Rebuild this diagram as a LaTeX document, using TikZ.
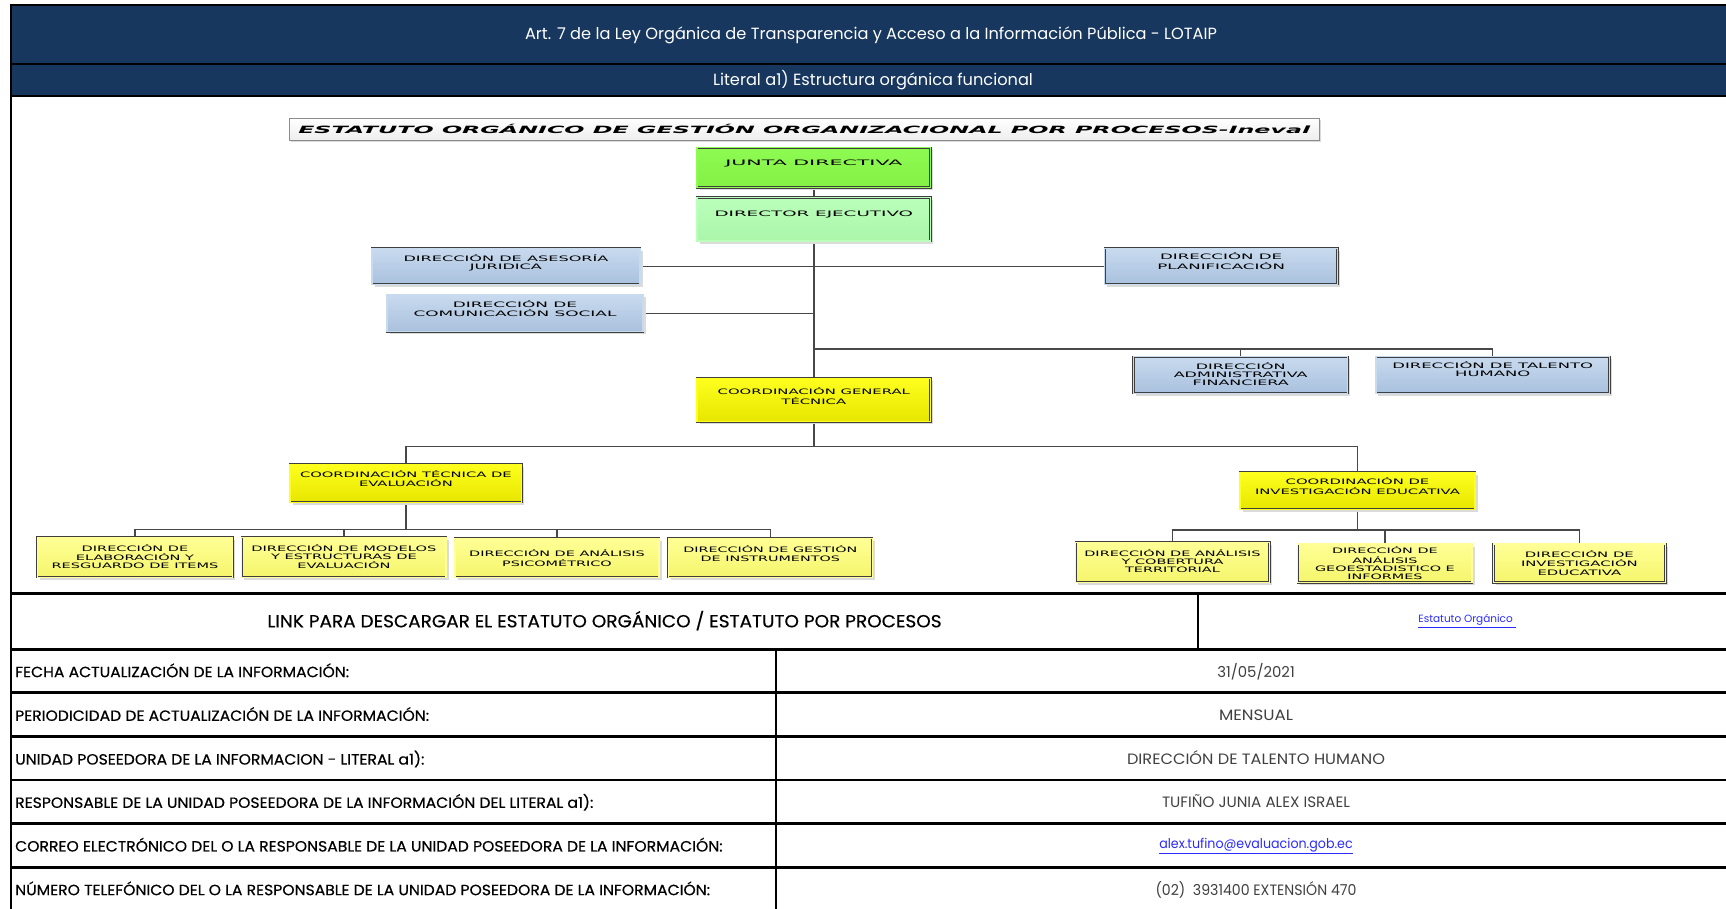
\documentclass[tikz,border=0pt]{standalone}
\usepackage{fontspec}
\usepackage{graphicx}
\setmainfont{Poppins}
\newfontfamily\chartfont{DejaVu Sans}
\newfontfamily\lblfont[FakeStretch=1.055, FakeBold=0.5]{Poppins}
\usetikzlibrary{shadows,backgrounds}
\definecolor{navy}{HTML}{17375E}
\definecolor{boxline}{HTML}{3F3F3F}
\definecolor{connc}{HTML}{484848}
\definecolor{jdgreen}{HTML}{8EFB52}
\definecolor{jdgreenb}{HTML}{84F046}
\definecolor{degreen}{HTML}{BAFFBA}
\definecolor{degreenb}{HTML}{ABF5AB}
\definecolor{bluet}{HTML}{C8DAEE}
\definecolor{blueb}{HTML}{A9C1DE}
\definecolor{yelt}{HTML}{FFFF1E}
\definecolor{yelb}{HTML}{E6E600}
\definecolor{pyelt}{HTML}{FFFF96}
\definecolor{pyelb}{HTML}{F5F56C}
\definecolor{linkblue}{HTML}{2B2BFF}
\definecolor{valgray}{HTML}{404040}
\newcommand{\bxt}[2]{\resizebox{#1pt}{\height}{\chartfont\fontsize{7.5}{8.3}\selectfont\begin{tabular}{@{}c@{}}#2\end{tabular}}}
\newcommand{\fitv}[2]{\resizebox{#1pt}{\height}{#2}}
\tikzset{
  orgbox/.style={draw=boxline, line width=0.5pt, double distance=1.3pt, inner sep=0pt,
    drop shadow={shadow xshift=2.5pt, shadow yshift=-2.5pt, fill=black!14, opacity=1}},
  greenA/.style={orgbox, top color=jdgreen, bottom color=jdgreenb, double=jdgreen},
  greenB/.style={orgbox, top color=degreen, bottom color=degreenb, double=degreen},
  bluebox/.style={orgbox, top color=bluet, bottom color=blueb, double=bluet},
  yelbox/.style={orgbox, top color=yelt, bottom color=yelb, double=yelt},
  pyelbox/.style={orgbox, top color=pyelt, bottom color=pyelb, double=pyelt},
  titlebox/.style={draw=black!45, line width=0.9pt, inner sep=0pt, top color=white, bottom color=black!7,
    drop shadow={shadow xshift=1.5pt, shadow yshift=-1.5pt, fill=black!15, opacity=1}},
  bxtext/.style={inner sep=0pt, anchor=center, text=black},
  conn/.style={draw=connc, line width=1.3pt},
  trunk/.style={draw=connc, line width=1.9pt},
  tline/.style={line width=2.6pt, black},
  hdr/.style={inner sep=0pt, text=white, font=\fontsize{16.2}{19}\selectfont, text height=11.3pt, text depth=0pt},
  lbl/.style={anchor=west, inner sep=0pt, font=\lblfont\fontsize{14.8}{17}\selectfont, text height=10.3pt, text depth=0pt},
  val/.style={inner sep=0pt, text=valgray, font=\fontsize{15}{17}\selectfont, text height=10.5pt, text depth=0pt},
}
\begin{document}
\begin{tikzpicture}[x=1pt,y=-1pt]
\useasboundingbox (0,0) rectangle (1726,908);
\clip (0,0) rectangle (1726,908);
% headers
\fill[navy] (11,5) rectangle (1740,64);
\fill[navy] (11,64) rectangle (1740,96);
\draw[line width=2.6pt] (11,5) -- (1740,5);
\draw[line width=2.4pt] (11,64) -- (1740,64);
\draw[line width=2.6pt] (11,96) -- (1740,96);
\draw[line width=2pt] (11,4) -- (11,910);
\node[hdr] (h1) at (871,34) {Art. 7 de la Ley Orgánica de Transparencia y Acceso a la Información Pública - LOTAIP};
\node[hdr] (h2) at (873,80) {Literal a1) Estructura orgánica funcional};

% title
\node[titlebox, minimum width=1029.5pt, minimum height=22.4pt] (ttl) at (804.25,129.5) {};
\node[bxtext] (ttlt) at (804.25,129) {\resizebox{1012pt}{\height}{\chartfont\bfseries\itshape\fontsize{10}{12}\selectfont ESTATUTO ORGÁNICO DE GESTIÓN ORGANIZACIONAL POR PROCESOS-Ineval}};

% boxes
\node[greenA, minimum width=233.5pt, minimum height=39.8pt] (jd) at (813.8,167.6) {};
\node[greenB, minimum width=233.5pt, minimum height=43.7pt] (de) at (813.8,219.2) {};
\node[bluebox, minimum width=268pt, minimum height=36pt] (ases) at (506,266.3) {};
\node[bluebox, minimum width=256pt, minimum height=36.7pt] (com) at (515,313.3) {};
\node[bluebox, minimum width=232.8pt, minimum height=36pt] (plan) at (1221.1,266.3) {};
\node[bluebox, minimum width=214.2pt, minimum height=36.6pt] (adm) at (1240.7,375) {};
\node[bluebox, minimum width=233.7pt, minimum height=36.6pt] (tal) at (1492.7,375) {};
\node[yelbox, minimum width=233.4pt, minimum height=43.4pt] (cgt) at (813.8,400) {};
\node[yelbox, minimum width=231.7pt, minimum height=38pt] (cte) at (405.9,483.3) {};
\node[yelbox, minimum width=235pt, minimum height=37pt] (cie) at (1357.5,490.8) {};
\node[pyelbox, minimum width=195.4pt, minimum height=40pt] (b1) at (135,557.3) {};
\node[pyelbox, minimum width=204.3pt, minimum height=40pt] (b2) at (343.9,557.3) {};
\node[pyelbox, minimum width=204pt, minimum height=39pt] (b3) at (557,557.8) {};
\node[pyelbox, minimum width=204pt, minimum height=39pt] (b4) at (770.3,557.8) {};
\node[pyelbox, minimum width=193.7pt, minimum height=40pt] (bA) at (1172.5,562.3) {};
\node[pyelbox, minimum width=174.2pt, minimum height=38.3pt] (bB) at (1384.9,563.2) {};
\node[pyelbox, minimum width=172.1pt, minimum height=38.3pt] (bC) at (1579.4,563.2) {};

% box texts
\node[bxtext] (jdt) at (813.8,164.1) {\bxt{177}{JUNTA DIRECTIVA}};
\node[bxtext] (det) at (813.8,215.1) {\bxt{198.6}{DIRECTOR EJECUTIVO}};
\node[bxtext] (asest) at (506,263.1) {\bxt{205}{DIRECCIÓN DE ASESORÍA\\JURIDICA}};
\node[bxtext] (comt) at (515,309.8) {\bxt{203}{DIRECCIÓN DE\\COMUNICACIÓN SOCIAL}};
\node[bxtext] (plant) at (1221.1,262.1) {\bxt{127.7}{DIRECCIÓN DE\\PLANIFICACIÓN}};
\node[bxtext] (admt) at (1240.7,375.4) {\bxt{133.9}{DIRECCIÓN\\ADMINISTRATIVA\\FINANCIERA}};
\node[bxtext] (talt) at (1492.7,370.6) {\bxt{200.6}{DIRECCIÓN DE TALENTO\\HUMANO}};
\node[bxtext] (cgtt) at (813.8,397.1) {\bxt{192.3}{COORDINACIÓN GENERAL\\TÉCNICA}};
\node[bxtext] (ctet) at (405.9,479.8) {\bxt{211.7}{COORDINACIÓN TÉCNICA DE\\EVALUACIÓN}};
\node[bxtext] (ciet) at (1357.5,487.4) {\bxt{205}{COORDINACIÓN DE\\INVESTIGACIÓN EDUCATIVA}};
\node[bxtext] (b1t) at (135,557.8) {\bxt{166.7}{DIRECCIÓN DE\\ELABORACIÓN Y\\RESGUARDO DE ITEMS}};
\node[bxtext] (b2t) at (343.9,557.8) {\bxt{185}{DIRECCIÓN DE MODELOS\\Y ESTRUCTURAS DE\\EVALUACIÓN}};
\node[bxtext] (b3t) at (557,559.1) {\bxt{175.7}{DIRECCIÓN DE ANÁLISIS\\PSICOMÉTRICO}};
\node[bxtext] (b4t) at (770.3,554.8) {\bxt{174}{DIRECCIÓN DE GESTIÓN\\DE INSTRUMENTOS}};
\node[bxtext] (bAt) at (1172.5,562.3) {\bxt{176.3}{DIRECCIÓN DE ANÁLISIS\\Y COBERTURA\\TERRITORIAL}};
\node[bxtext] (bBt) at (1384.9,564.4) {\bxt{139.8}{DIRECCIÓN DE\\ANÁLISIS\\GEOESTADISTICO E\\INFORMES}};
\node[bxtext] (bCt) at (1579.4,563.9) {\bxt{116.8}{DIRECCIÓN DE\\INVESTIGACIÓN\\EDUCATIVA}};

% connectors
\coordinate (rb) at (813.8,349);
\coordinate (cb) at (813.8,446.5);
\coordinate (eb) at (405.9,529.3);
\coordinate (ib) at (1357.5,530);
\begin{scope}[on background layer]
\draw[trunk] (jd.south) -- (de.north);
\draw[trunk] (de.south) -- (cgt.north);
\draw[conn] (ases.east) -- (plan.west);
\draw[conn] (com.east) -- (com.east -| de.south);
\draw[conn] (rb) -| (adm.north);
\draw[conn] (rb) -| (tal.north);
\draw[trunk] (cgt.south) -- (cb);
\draw[conn] (cte.north) |- (cb) -| (cie.north);
\draw[trunk] (cte.south) -- (eb);
\draw[conn] (b1.north) |- (eb) -| (b4.north);
\draw[conn] (b2.north) -- (b2.north |- eb);
\draw[conn] (b3.north) -- (b3.north |- eb);
\draw[trunk] (cie.south) -- (ib);
\draw[conn] (bA.north) |- (ib) -| (bC.north);
\draw[conn] (bB.north) -- (bB.north |- ib);
\end{scope}

% table
\foreach \yy in {593.3,649.3,692.7,736.7,780,823.3,867.3} \draw[tline] (11,\yy) -- (1740,\yy);
\draw[line width=2pt] (1198,593.3) -- (1198,649.3);
\draw[line width=2pt] (776,649.3) -- (776,910);
\node[inner sep=0pt, font=\lblfont\fontsize{17.5}{20}\selectfont, text height=12.2pt, text depth=0pt] (lnk) at (604.5,621.2) {LINK PARA DESCARGAR EL ESTATUTO ORGÁNICO / ESTATUTO POR PROCESOS};
\node[inner sep=0pt, text=linkblue, font=\fontsize{10.5}{12}\selectfont] (lnkv) at (1467,621) {\underline{Estatuto Orgánico\ }};
\node[lbl] (l1) at (15,672) {FECHA ACTUALIZACIÓN DE LA INFORMACIÓN:};
\node[lbl] (l2) at (15,715.7) {PERIODICIDAD DE ACTUALIZACIÓN DE LA INFORMACIÓN:};
\node[lbl] (l3) at (15,759.4) {UNIDAD POSEEDORA DE LA INFORMACION - LITERAL a1):};
\node[lbl] (l4) at (15,802.7) {RESPONSABLE DE LA UNIDAD POSEEDORA DE LA INFORMACIÓN DEL LITERAL a1):};
\node[lbl] (l5) at (15,846.3) {CORREO ELECTRÓNICO DEL O LA RESPONSABLE DE LA UNIDAD POSEEDORA DE LA INFORMACIÓN:};
\node[lbl] (l6) at (15,890) {NÚMERO TELEFÓNICO DEL O LA RESPONSABLE DE LA UNIDAD POSEEDORA DE LA INFORMACIÓN:};
\node[val] (v1) at (1256,672) {\fitv{77.5}{31/05/2021}};
\node[val] (v2) at (1256,715.7) {\fitv{74}{MENSUAL}};
\node[val] (v3) at (1256,759.4) {\fitv{258}{DIRECCIÓN DE TALENTO HUMANO}};
\node[val] (v4) at (1256,802.7) {\fitv{188}{TUFIÑO JUNIA ALEX ISRAEL}};
\node[inner sep=0pt, text=linkblue, font=\fontsize{13.5}{15}\selectfont] (v5) at (1256,846.3) {\fitv{193.5}{\underline{alex.tufino@evaluacion.gob.ec}}};
\node[val] (v6) at (1256,890) {\fitv{201}{(02)\ \ 3931400 EXTENSIÓN 470}};
\end{tikzpicture}
\end{document}
